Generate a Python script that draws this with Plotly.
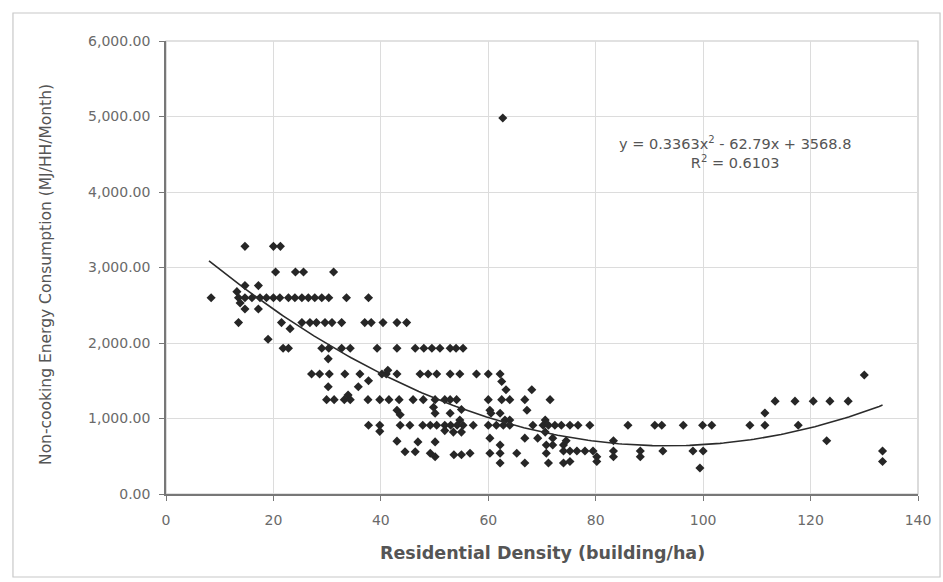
import numpy as np
import plotly.graph_objects as go

# ---- data ----
density = [
    8.4,
    14.7, 20.0, 21.3,
    20.4, 24.1, 25.6, 31.2,
    14.7, 17.2, 13.2,
    13.5, 14.7, 16.0, 17.5, 18.7, 20.0, 21.2, 22.8, 24.0, 25.3, 26.5, 27.7, 29.0, 30.3, 33.6, 37.7,
    13.8, 14.7, 17.2,
    13.5, 21.5, 23.1, 25.3, 26.8, 28.0, 29.6, 30.9, 32.7, 37.0, 38.2, 40.4, 43.0, 44.8,
    19.0,
    21.8, 22.8, 29.0, 30.3, 32.7, 34.3, 39.3, 43.0, 46.4, 48.0, 49.5, 51.0, 52.9, 54.0, 55.3,
    30.2,
    27.1, 28.6, 30.4, 33.3, 36.1, 40.2, 41.0, 43.0, 47.3, 48.8, 50.4, 52.9, 54.7, 57.8, 60.0, 62.2,
    41.3, 62.5, 37.7, 30.2, 35.8, 63.3, 68.1, 33.9,
    29.9, 31.3, 33.2, 34.3, 37.6, 39.8, 41.5, 43.4, 46.0, 47.9, 50.1, 51.9, 52.9, 54.1, 60.0, 62.5, 64.0, 66.8, 71.5,
    43.0, 43.6, 50.1, 49.8, 55.0, 60.3, 67.2, 52.9, 60.5, 62.2,
    54.7, 63.1, 64.0, 70.6,
    37.7, 39.8, 43.6, 45.4, 47.8, 49.2, 50.4, 51.9, 53.0, 54.2, 55.3, 57.2, 60.0, 61.5, 62.8, 64.0,
    68.3, 70.2, 71.2, 72.4, 73.6, 75.2, 76.7, 78.9, 86.0, 91.0, 92.3, 96.3, 99.9, 101.6, 108.7, 111.5, 117.7,
    39.8, 51.9, 53.5, 55.0, 70.6,
    43.0, 46.9, 50.1, 60.3, 66.8, 69.2, 72.0, 62.2, 70.8, 72.0, 74.0, 83.3, 123.0, 74.5,
    44.5, 46.4, 49.2, 53.6, 55.0, 56.6, 60.3, 62.2, 65.3, 70.8, 74.0, 75.2, 76.5, 78.0, 79.5, 83.3, 88.3,
    92.5, 98.1, 100.0, 133.4,
    50.1, 83.3, 88.3, 80.2,
    62.2, 66.8, 71.2, 74.0, 75.2, 80.2, 133.4,
    99.4,
    111.5, 113.4, 117.1, 120.5, 123.6, 127.0, 130.0,
    62.7,
]
energy = [
    2600,
    3280, 3280, 3280,
    2940, 2940, 2940, 2940,
    2760, 2760, 2680,
    2600, 2600, 2600, 2600, 2600, 2600, 2600, 2600, 2600, 2600, 2600, 2600, 2600, 2600, 2600, 2600,
    2530, 2450, 2450,
    2270, 2270, 2190, 2270, 2270, 2270, 2270, 2270, 2270, 2270, 2270, 2270, 2270, 2270,
    2050,
    1930, 1930, 1930, 1930, 1930, 1930, 1930, 1930, 1930, 1930, 1930, 1930, 1930, 1930, 1930,
    1790,
    1590, 1590, 1590, 1590, 1590, 1590, 1590, 1590, 1590, 1590, 1590, 1590, 1590, 1590, 1590, 1590,
    1640, 1490, 1500, 1420, 1420, 1380, 1380, 1310,
    1250, 1250, 1250, 1250, 1250, 1250, 1250, 1250, 1250, 1250, 1250, 1250, 1250, 1250, 1250, 1250, 1250, 1250, 1250,
    1110, 1050, 1070, 1150, 1120, 1110, 1110, 1070, 1070, 1070,
    980, 980, 980, 980,
    910, 910, 910, 910, 910, 910, 910, 910, 910, 910, 910, 910, 910, 910, 910, 910,
    910, 910, 910, 910, 910, 910, 910, 910, 910, 910, 910, 910, 910, 910, 910, 910, 910,
    830, 840, 820, 820, 820,
    700, 690, 690, 740, 740, 740, 740, 650, 650, 650, 650, 706, 706, 706,
    560, 560, 540, 520, 520, 540, 540, 540, 540, 540, 570, 570, 570, 570, 570, 570, 570,
    570, 570, 570, 570,
    494, 494, 494, 494,
    410, 410, 410, 410, 430, 430, 430,
    344,
    1073, 1230, 1230, 1230, 1230, 1230, 1576,
    4980,
]

# quadratic trendline as printed on the chart
trend_coef = [0.3363, -62.79, 3568.8]
trend_range = [8.0, 133.4]
equation_text = "y = 0.3363x<sup>2</sup> - 62.79x + 3568.8<br>R<sup>2</sup> = 0.6103"

x_ticks = [0, 20, 40, 60, 80, 100, 120, 140]
y_ticks = [0, 1000, 2000, 3000, 4000, 5000, 6000]

x_title = "Residential Density (building/ha)"
y_title = "Non-cooking Energy Consumption (MJ/HH/Month)"

# ---- figure ----
tx = np.linspace(trend_range[0], trend_range[1], 200)
ty = np.polyval(trend_coef, tx)

fig = go.Figure()
fig.add_trace(go.Scatter(
    x=density, y=energy, mode="markers",
    marker=dict(symbol="diamond", size=7, color="#262626", line=dict(width=0)),
    showlegend=False, hoverinfo="x+y",
))
fig.add_trace(go.Scatter(
    x=tx, y=ty, mode="lines",
    line=dict(color="#2b2b2b", width=1.6),
    showlegend=False, hoverinfo="skip",
))

tick_font = dict(family="DejaVu Sans", size=14, color="#6a6a6a")

fig.update_layout(
    width=943, height=582,
    margin=dict(l=166, r=25, t=41, b=88),
    paper_bgcolor="white", plot_bgcolor="white",
    xaxis=dict(
        range=[0, 140], tickvals=x_ticks, ticktext=[str(v) for v in x_ticks],
        showgrid=True, gridcolor="#dcdcdc", gridwidth=1,
        showline=True, linecolor="#777777", linewidth=1.5,
        ticks="outside", ticklen=5, tickcolor="#777777",
        tickfont=tick_font, ticklabelstandoff=7, zeroline=False,
    ),
    yaxis=dict(
        range=[0, 6000], tickvals=y_ticks, tickformat=",.2f",
        showgrid=True, gridcolor="#dcdcdc", gridwidth=1,
        showline=True, linecolor="#777777", linewidth=1.5,
        ticks="outside", ticklen=5, tickcolor="#777777",
        tickfont=tick_font, ticklabelstandoff=6, zeroline=False,
    ),
    shapes=[
        dict(type="rect", xref="paper", yref="paper", x0=0, x1=1, y0=0, y1=1,
             line=dict(color="#c4c4c4", width=1.2), layer="below"),
        dict(type="rect", xref="paper", yref="paper", x0=-0.2035, x1=1.0293,
             y0=-0.1832, y1=1.0618, line=dict(color="#c8c8c8", width=1.2), layer="below"),
    ],
    annotations=[
        dict(text=equation_text, x=105.9, y=4517, xref="x", yref="y",
             showarrow=False, align="center",
             font=dict(family="DejaVu Sans", size=14.5, color="#555555")),
        dict(text="<b>" + x_title + "</b>", x=0.5, y=-0.130, xref="paper", yref="paper",
             showarrow=False, xanchor="center", yanchor="middle",
             font=dict(family="DejaVu Sans", size=17.5, color="#555555")),
        dict(text=y_title, x=-0.1596, y=0.4857, xref="paper", yref="paper",
             showarrow=False, xanchor="center", yanchor="middle", textangle=-90,
             font=dict(family="DejaVu Sans", size=15.5, color="#555555")),
    ],
)

fig.write_html("out.html")
